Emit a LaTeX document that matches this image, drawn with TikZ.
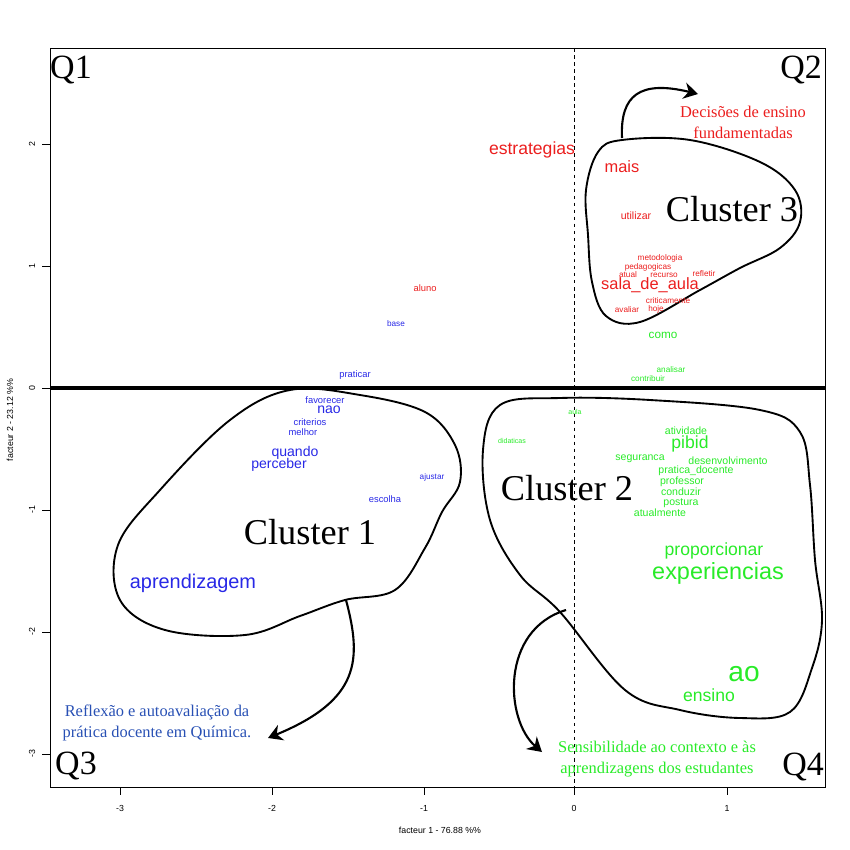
\documentclass[tikz,border=0pt]{standalone}
\usepackage{fontspec}
\setmainfont{Liberation Serif}
\setsansfont{Liberation Sans}
\usetikzlibrary{arrows.meta}
\definecolor{wred}{RGB}{235,30,30}
\definecolor{wblue}{RGB}{40,40,230}
\definecolor{wgreen}{RGB}{40,235,40}
\definecolor{cblue}{RGB}{40,80,180}
\newcommand{\fs}[1]{\fontsize{#1}{#1}\selectfont}
\tikzset{
  word/.style={font=\sffamily\fs{#1}, inner sep=0pt},
  blob/.style={line width=1.6pt},
  note/.style={font=\fs{14}, inner sep=0pt},
  quad/.style={font=\fs{29}, inner sep=0pt},
  tick/.style={font=\sffamily\fs{7.5}, inner sep=0pt},
  pointer/.style={line width=1.8pt, -{Stealth[length=12pt,width=14pt]}}
}
\begin{document}
\begin{tikzpicture}[x=0.03cm, y=-0.03cm]
\useasboundingbox (0,0) rectangle (850,850);
% frame and axes
\draw[line width=0.8pt] (50,48) rectangle (825,787);
\draw[dashed, line width=0.8pt] (574,48) -- (574,787);
\draw[line width=2.6pt] (50,388) -- (825,388);
\foreach \x/\l in {120/-3,272/-2,424/-1,574/0,727/1} {
    \draw (\x,787) -- (\x,795);
    \node[tick] at (\x,808) {\l};
}
\foreach \y/\l in {144/2,266/1,388/0,510/-1,632/-2,754/-3} {
    \draw (50,\y) -- (42,\y);
    \node[tick, rotate=90] at (32,\y) {\l};
}
\node[tick] (xlab) at (440,830) {facteur  1  - 76.88 \%\%};
\node[tick, rotate=90] (ylab) at (10,420) {facteur  2  - 23.12 \%\%};
% quadrants
\node[quad] (q1) at (71,70) {Q1};
\node[quad] (q2) at (801,70) {Q2};
\node[quad] (q3) at (76,766) {Q3};
\node[quad] (q4) at (803,767) {Q4};
% clusters
\draw[blob] plot[smooth cycle, tension=0.6] coordinates {(622,140) (690,140) (760,162) (795,190) (800,222) (780,248) (740,268) (700,290) (640,322) (606,316) (592,282) (588,235) (586,190) (598,152)};
\draw[blob] plot[smooth cycle, tension=0.6] coordinates {(290,390) (360,395) (425,412) (455,445) (460,482) (442,512) (425,548) (395,590) (345,600) (300,616) (245,635) (165,630) (120,600) (118,545) (160,490) (230,420)};
\draw[blob] plot[smooth cycle, tension=0.6] coordinates {(500,405) (560,398) (650,400) (760,410) (800,432) (810,485) (815,560) (822,620) (812,668) (790,712) (740,718) (680,710) (625,690) (560,612) (520,575) (490,520) (483,450)};
\node[font=\fs{31}, inner sep=0pt] (c3) at (732,209) {Cluster 3};
\node[font=\fs{31}, inner sep=0pt] (c1) at (310,532) {Cluster 1};
\node[font=\fs{31}, inner sep=0pt] (c2) at (567,488) {Cluster 2};
% arrows
\coordinate (a3) at (622,138);
\coordinate (a1) at (346,600);
\coordinate (a2) at (566,610);
\node[note, text=wred, align=center] (n3) at (743,122) {Decisões de ensino\\[4pt]fundamentadas};
\node[note, text=cblue, align=center] (n1) at (157,723) {Reflexão e autoavaliação da\\[4pt]prática docente em Química.};
\node[note, text=wgreen, align=center] (n2) at (657,759) {Sensibilidade ao contexto e às\\[4pt]aprendizagens dos estudantes};
\draw[pointer] (a3) .. controls (620,95) and (640,80) .. (698,94);
\draw[pointer] (a1) .. controls (362,660) and (360,700) .. (268,738);
\draw[pointer] (a2) .. controls (500,630) and (505,720) .. (542,752);
% red words
\foreach \n/\x/\y/\s in {estrategias/532/150/15, mais/622/167/14, utilizar/636/216/9, metodologia/660/258/7, pedagogicas/648/267/7, atual/628/275/7, recurso/664/275/7, refletir/704/274/7, criticamente/668/301/7, hoje/656/309/7, avaliar/627/310/7, aluno/425/288/8} {
    \node[word=\s, text=wred] (w-\n) at (\x,\y) {\n};
}
\node[word=14, text=wred] (w-sala) at (650,285) {sala\_de\_aula};
% blue words
\foreach \n/\x/\y/\s in {base/396/324/7, praticar/355/375/8, favorecer/325/400/8, nao/329/410/12, criterios/310/422/8, melhor/303/432/8, quando/295/453/12, perceber/279/465/12, ajustar/432/477/7, escolha/385/499/8, aprendizagem/193/583/17} {
    \node[word=\s, text=wblue] (w-\n) at (\x,\y) {\n};
}
% green words
\foreach \n/\x/\y/\s in {como/663/335/10, analisar/671/370/7, contribuir/648/379/7, aula/575/412/6, didaticas/512/441/6, atividade/686/431/9, pibid/690/444/15, seguranca/640/459/9, desenvolvimento/728/461/9, professor/682/482/9, conduzir/681/492/9, postura/681/503/9, atualmente/660/513/9, proporcionar/714/551/15, experiencias/718/573/20, ao/744/674/24, ensino/709/695/15} {
    \node[word=\s, text=wgreen] (w-\n) at (\x,\y) {\n};
}
\node[word=9, text=wgreen] (w-pratica) at (696,471) {pratica\_docente};
\end{tikzpicture}
\end{document}
